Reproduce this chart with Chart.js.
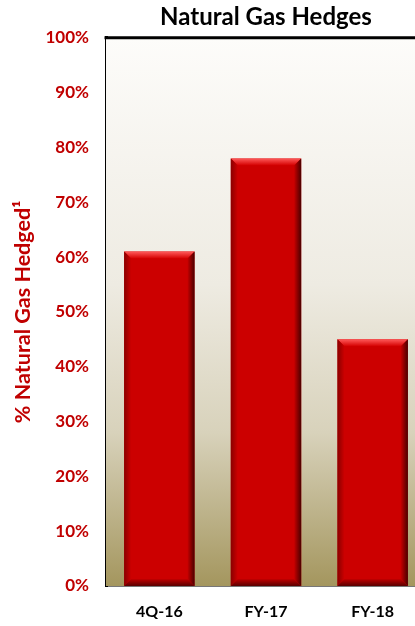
<!DOCTYPE html>
<html>
<head>
<meta charset="utf-8">
<script src="https://cdn.jsdelivr.net/npm/chart.js@4"></script>
<style>
  html, body { margin: 0; padding: 0; background: #fff; overflow: hidden; }
</style>
</head>
<body>
<canvas id="hedgeChart" width="440" height="626"></canvas>
<script>
const categories = ["4Q-16", "FY-17", "FY-18"];
const hedgedPct = [61, 78, 45];
const yTicks = [0, 10, 20, 30, 40, 50, 60, 70, 80, 90, 100];

const RED = "#c00000";

// plot background gradient + top border line
const plotBackground = {
  id: "plotBackground",
  beforeDatasetsDraw(chart) {
    const { ctx, chartArea: a } = chart;
    const g = ctx.createLinearGradient(0, a.top, 0, a.bottom);
    g.addColorStop(0, "#fdfcfa");
    g.addColorStop(0.45, "#eeebe2");
    g.addColorStop(0.72, "#d8d2bb");
    g.addColorStop(1, "#a4965e");
    ctx.save();
    ctx.fillStyle = g;
    ctx.fillRect(a.left, a.top, a.right - a.left, a.bottom - a.top);
    ctx.restore();
  },
  afterDraw(chart) {
    const { ctx, chartArea: a } = chart;
    ctx.save();
    ctx.strokeStyle = "#000";
    ctx.lineWidth = 3;
    ctx.beginPath();
    ctx.moveTo(a.left - 1.5, a.top);
    ctx.lineTo(a.right + 20, a.top);
    ctx.stroke();
    ctx.restore();
  }
};

// bevel shading on each bar
const barBevel = {
  id: "barBevel",
  afterDatasetsDraw(chart) {
    const { ctx } = chart;
    chart.getDatasetMeta(0).data.forEach(function (bar) {
      const l = bar.x - bar.width / 2, r = bar.x + bar.width / 2;
      const t = bar.y, b = bar.base;
      const e = 7;
      ctx.save();
      // top highlight
      const gt = ctx.createLinearGradient(0, t, 0, t + e);
      gt.addColorStop(0, "#ff5a5a");
      gt.addColorStop(1, "#d40000");
      ctx.fillStyle = gt;
      ctx.beginPath();
      ctx.moveTo(l, t); ctx.lineTo(r, t); ctx.lineTo(r - e, t + e); ctx.lineTo(l + e, t + e);
      ctx.closePath(); ctx.fill();
      // right shadow
      const gr = ctx.createLinearGradient(r - e, 0, r, 0);
      gr.addColorStop(0, "#c40000");
      gr.addColorStop(1, "#4a0000");
      ctx.fillStyle = gr;
      ctx.beginPath();
      ctx.moveTo(r, t); ctx.lineTo(r, b); ctx.lineTo(r - e, b - e); ctx.lineTo(r - e, t + e);
      ctx.closePath(); ctx.fill();
      // left edge
      const gl = ctx.createLinearGradient(l, 0, l + e, 0);
      gl.addColorStop(0, "#8a0000");
      gl.addColorStop(1, "#cc0000");
      ctx.fillStyle = gl;
      ctx.beginPath();
      ctx.moveTo(l, t); ctx.lineTo(l + e, t + e); ctx.lineTo(l + e, b - e); ctx.lineTo(l, b);
      ctx.closePath(); ctx.fill();
      // bottom shadow
      const gb = ctx.createLinearGradient(0, b - e, 0, b);
      gb.addColorStop(0, "#c00000");
      gb.addColorStop(1, "#5a0000");
      ctx.fillStyle = gb;
      ctx.beginPath();
      ctx.moveTo(l, b); ctx.lineTo(r, b); ctx.lineTo(r - e, b - e); ctx.lineTo(l + e, b - e);
      ctx.closePath(); ctx.fill();
      ctx.restore();
    });
  }
};

new Chart(document.getElementById("hedgeChart"), {
  type: "bar",
  data: {
    labels: categories,
    datasets: [{
      data: hedgedPct,
      backgroundColor: "#cc0000",
      borderWidth: 0,
      categoryPercentage: 1,
      barPercentage: 0.66
    }]
  },
  options: {
    responsive: false,
    animation: false,
    layout: { padding: { top: 3, right: 14, left: 10, bottom: 0 } },
    plugins: {
      legend: { display: false },
      tooltip: { enabled: false },
      title: {
        display: true,
        text: "Natural Gas Hedges",
        fullSize: false,
        color: "#000",
        font: { family: "Lato", size: 24, weight: "bold" },
        padding: { top: 0, bottom: 6 }
      }
    },
    scales: {
      x: {
        afterFit(axis) { axis.height = 40; },
        grid: { display: false, drawTicks: false },
        border: { display: true, color: "#777", width: 2 },
        ticks: {
          color: "#000",
          padding: 16,
          font: { family: "Lato", size: 16, weight: "bold" }
        }
      },
      y: {
        min: 0,
        max: 100,
        afterBuildTicks(axis) {
          axis.ticks = yTicks.map(v => ({ value: v }));
        },
        afterFit(axis) { axis.width = 96; },
        grid: { display: false, drawTicks: false },
        border: { display: true, color: "#000", width: 3 },
        ticks: {
          color: RED,
          padding: 17,
          font: { family: "Lato", size: 17, weight: "bold" },
          callback: v => v + "%"
        },
        title: {
          display: true,
          text: "% Natural Gas Hedged\u00b9",
          color: RED,
          font: { family: "Lato", size: 21.5, weight: "bold" },
          padding: { top: 0, bottom: 0 }
        }
      }
    }
  },
  plugins: [plotBackground, barBevel]
});
</script>
</body>
</html>
